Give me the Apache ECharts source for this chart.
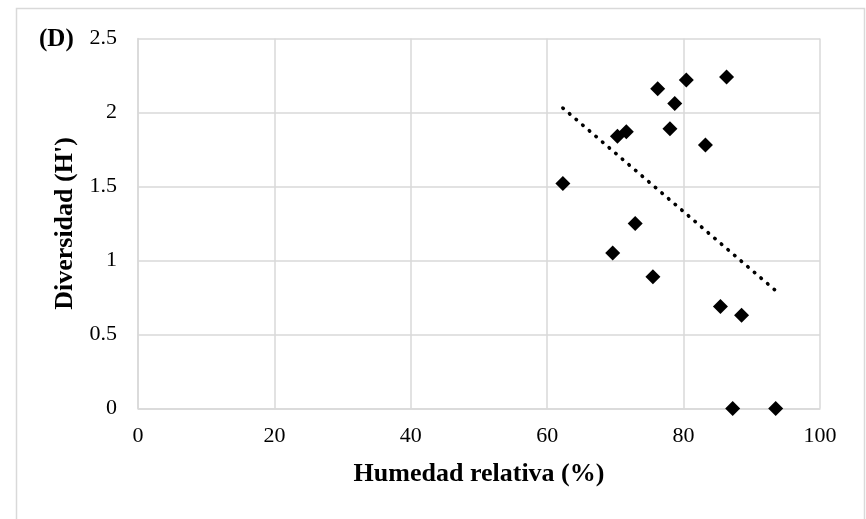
<!DOCTYPE html>
<html>
<head>
<meta charset="utf-8">
<script src="https://cdn.jsdelivr.net/npm/echarts@6/dist/echarts.min.js"></script>
<style>
  html, body { margin: 0; padding: 0; background: #fff; }
  #chart { width: 866px; height: 519px; }
</style>
</head>
<body>
<div id="chart"></div>
<script>
// Relative humidity (%) and Shannon diversity (H') per sampling
const humidity  = [62.3, 72.9, 69.6, 75.5, 85.4, 88.5, 87.2, 93.5, 76.2, 80.4, 86.3, 78.7, 71.6, 70.3, 78.0, 83.2];
const diversity = [1.52, 1.25, 1.05, 0.89, 0.69, 0.63, 0.00, 0.00, 2.16, 2.22, 2.24, 2.06, 1.87, 1.84, 1.89, 1.78];

const xTicks = [0, 20, 40, 60, 80, 100];
const yTicks = [0, 0.5, 1, 1.5, 2, 2.5];

// Least-squares linear trend over the observed humidity range
function linearFit(xs, ys) {
  const n = xs.length;
  const mx = xs.reduce((a, b) => a + b, 0) / n;
  const my = ys.reduce((a, b) => a + b, 0) / n;
  let sxy = 0, sxx = 0;
  for (let i = 0; i < n; i++) {
    sxy += (xs[i] - mx) * (ys[i] - my);
    sxx += (xs[i] - mx) * (xs[i] - mx);
  }
  const slope = sxy / sxx;
  return { slope, intercept: my - slope * mx };
}
const fit = linearFit(humidity, diversity);
const xMin = Math.min(...humidity), xMax = Math.max(...humidity);
const trend = [[xMin, fit.intercept + fit.slope * xMin], [xMax, fit.intercept + fit.slope * xMax]];

const points = humidity.map((h, i) => [h, diversity[i]]);

const serif = '"Liberation Serif", "Times New Roman", serif';
const gridGray = '#d9d9d9';

const chart = echarts.init(document.getElementById('chart'), null, { renderer: 'canvas' });
chart.setOption({
  animation: false,
  backgroundColor: '#ffffff',
  grid: { left: 138, right: 46, top: 38.5, bottom: 110.5, containLabel: false },
  xAxis: {
    type: 'value',
    min: xTicks[0], max: xTicks[xTicks.length - 1], interval: 20,
    name: 'Humedad relativa (%)',
    nameLocation: 'middle',
    nameGap: 53,
    nameTextStyle: { fontFamily: serif, fontWeight: 'bold', fontSize: 26, color: '#000' },
    axisLine: { show: true, lineStyle: { color: gridGray, width: 1.5 } },
    axisTick: { show: false },
    axisLabel: { fontFamily: serif, fontSize: 22, color: '#000', margin: 17 },
    splitLine: { show: true, lineStyle: { color: gridGray, width: 1.5 } }
  },
  yAxis: {
    type: 'value',
    min: yTicks[0], max: yTicks[yTicks.length - 1], interval: 0.5,
    name: "Diversidad (H')",
    nameLocation: 'middle',
    nameGap: 50,
    nameTextStyle: { fontFamily: serif, fontWeight: 'bold', fontSize: 26, color: '#000' },
    axisLine: { show: true, lineStyle: { color: gridGray, width: 1.5 } },
    axisTick: { show: false },
    axisLabel: { fontFamily: serif, fontSize: 22, color: '#000', margin: 21 },
    splitLine: { show: true, lineStyle: { color: gridGray, width: 1.5 } }
  },
  graphic: [
    {
      type: 'rect',
      shape: { x: 16.5, y: 8.5, width: 848, height: 530 },
      style: { fill: 'none', stroke: gridGray, lineWidth: 1.5 },
      silent: true
    },
    {
      type: 'text',
      left: 39, top: 27,
      style: { text: '(D)', font: 'bold 25px ' + serif, fill: '#000' }
    }
  ],
  series: [
    {
      type: 'line',
      data: trend,
      symbol: 'none',
      z: 2,
      lineStyle: { color: '#000', width: 3.6, type: [0.5, 8.2], cap: 'round' }
    },
    {
      type: 'scatter',
      data: points,
      symbol: 'diamond',
      symbolSize: 15,
      z: 3,
      itemStyle: { color: '#000', opacity: 1 }
    }
  ]
});
</script>
</body>
</html>
